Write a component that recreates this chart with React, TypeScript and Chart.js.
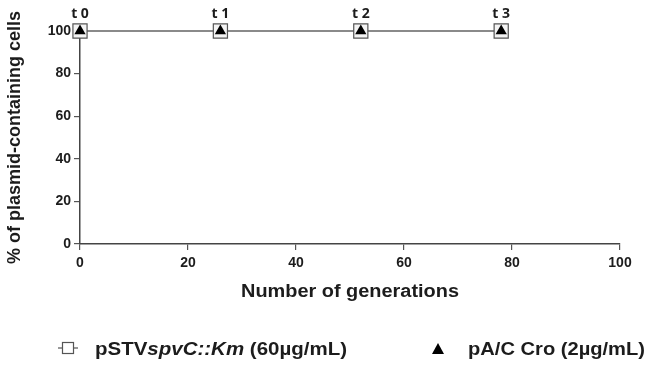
import React, { useEffect, useRef } from "react";
import { Chart, registerables } from "chart.js";

Chart.register(...registerables);

const generations = [0, 26, 52, 78];
const pstvValues = [100, 100, 100, 100];
const croValues = [100, 100, 100, 100];
const timeLabels = ["t 0", "t 1", "t 2", "t 3"];
const xTitle = "Number of generations";
const yTitle = "% of plasmid-containing cells";
const legendPstv = [
  { text: "pSTV", italic: false },
  { text: "spvC::Km", italic: true },
  { text: " (60\u00b5g/mL)", italic: false },
];
const legendCro = "pA/C Cro (2\u00b5g/mL)";

const FONT = "'Liberation Sans', Arial, sans-serif";
const TXT = "#1c1c1c";

function fitText(ctx: any, parts: { text: string; italic: boolean }[], x: number, y: number, size: number, targetW: number) {
  let w = 0;
  parts.forEach((p) => {
    ctx.font = `${p.italic ? "italic " : ""}bold ${size}px ${FONT}`;
    w += ctx.measureText(p.text).width;
  });
  const sx = targetW / w;
  ctx.save();
  ctx.translate(x, y);
  ctx.scale(sx, 1);
  let cx = 0;
  ctx.textAlign = "left";
  ctx.textBaseline = "middle";
  parts.forEach((p) => {
    ctx.font = `${p.italic ? "italic " : ""}bold ${size}px ${FONT}`;
    ctx.fillText(p.text, cx, 0);
    cx += ctx.measureText(p.text).width;
  });
  ctx.restore();
}

const overlayPlugin = {
  id: "overlay",
  afterDatasetsDraw(chart: any) {
    const ctx = chart.ctx;
    const meta = chart.getDatasetMeta(0);
    ctx.save();
    ctx.fillStyle = TXT;
    ctx.font = `bold 14px 'Open Sans', ${FONT}`;
    ctx.textAlign = "center";
    ctx.textBaseline = "alphabetic";
    meta.data.forEach((pt: any, i: number) => {
      ctx.fillText(timeLabels[i], pt.x, pt.y - 13);
    });
    ctx.restore();
  },
  afterDraw(chart: any) {
    const ctx = chart.ctx;
    const area = chart.chartArea;
    ctx.save();
    ctx.fillStyle = TXT;
    // x title
    const xs = 18;
    const xw = 218;
    fitText(ctx, [{ text: xTitle, italic: false }], (area.left + area.right) / 2 - xw / 2, 292, xs, xw);
    // y title
    ctx.save();
    ctx.translate(15, (area.top + area.bottom) / 2);
    ctx.rotate(-Math.PI / 2);
    ctx.font = `bold 18px ${FONT}`;
    ctx.textAlign = "center";
    ctx.textBaseline = "middle";
    ctx.fillText(yTitle, 0, 0);
    ctx.restore();

    const ly = 350;
    // square symbol with line
    ctx.strokeStyle = "#555";
    ctx.lineWidth = 1.2;
    ctx.beginPath();
    ctx.moveTo(58, ly - 2);
    ctx.lineTo(78, ly - 2);
    ctx.stroke();
    ctx.fillStyle = "#fff";
    ctx.fillRect(62, ly - 8, 12, 12);
    ctx.strokeRect(62.5, ly - 7.5, 11, 11);
    ctx.fillStyle = TXT;
    fitText(ctx, legendPstv, 95, ly, 18, 252);
    // triangle
    ctx.fillStyle = "#000";
    ctx.beginPath();
    ctx.moveTo(438, ly - 7);
    ctx.lineTo(444, ly + 4);
    ctx.lineTo(432, ly + 4);
    ctx.closePath();
    ctx.fill();
    ctx.fillStyle = TXT;
    fitText(ctx, [{ text: legendCro, italic: false }], 468, ly, 18, 177);
    ctx.restore();
  },
};

export default function App() {
  const ref = useRef<HTMLCanvasElement>(null);
  useEffect(() => {
    const chart = new Chart(ref.current!, {
      type: "line",
      data: {
        datasets: [
          {
            label: "pA/C Cro (2µg/mL)",
            data: generations.map((g, i) => ({ x: g, y: croValues[i] })),
            showLine: false,
            pointStyle: "triangle",
            pointRadius: 6.5,
            pointBackgroundColor: "#000",
            pointBorderColor: "#000",
            pointBorderWidth: 0,
            clip: false as any,
          },
          {
            label: "pSTVspvC::Km (60µg/mL)",
            data: generations.map((g, i) => ({ x: g, y: pstvValues[i] })),
            borderColor: "#8a8a8a",
            borderWidth: 2,
            pointStyle: "rect",
            pointRadius: 10,
            pointBackgroundColor: "#f4f4f4",
            pointBorderColor: "#555",
            pointBorderWidth: 1.2,
            clip: false as any,
          },
        ],
      },
      options: {
        responsive: false,
        animation: false,
        layout: { padding: { top: 31, right: 38, bottom: 61, left: 0 } },
        plugins: { legend: { display: false }, tooltip: { enabled: false } },
        scales: {
          x: {
            type: "linear",
            min: 0,
            max: 100,
            ticks: { stepSize: 20, color: TXT, font: { family: FONT, size: 14, weight: "bold" }, padding: 5 },
            grid: { display: true, drawOnChartArea: false, drawTicks: true, tickLength: 6, color: "#555", lineWidth: 1.2 },
            border: { color: "#444", width: 1.5 },
            afterFit(scale: any) {
              scale.height = 60;
            },
          } as any,
          y: {
            min: 0,
            max: 100,
            ticks: { stepSize: 20, color: TXT, font: { family: FONT, size: 14, weight: "bold" }, padding: 3 },
            grid: { display: true, drawOnChartArea: false, drawTicks: true, tickLength: 6, color: "#555", lineWidth: 1.2 },
            border: { color: "#444", width: 1.5 },
            afterFit(scale: any) {
              scale.width = 80;
            },
          } as any,
        },
      },
      plugins: [overlayPlugin],
    });
    return () => chart.destroy();
  }, []);
  return (
    <div style={{ position: "absolute", left: 0, top: 0, width: 658, height: 365, background: "#fff" }}>
      <canvas ref={ref} width={658} height={365} />
    </div>
  );
}
